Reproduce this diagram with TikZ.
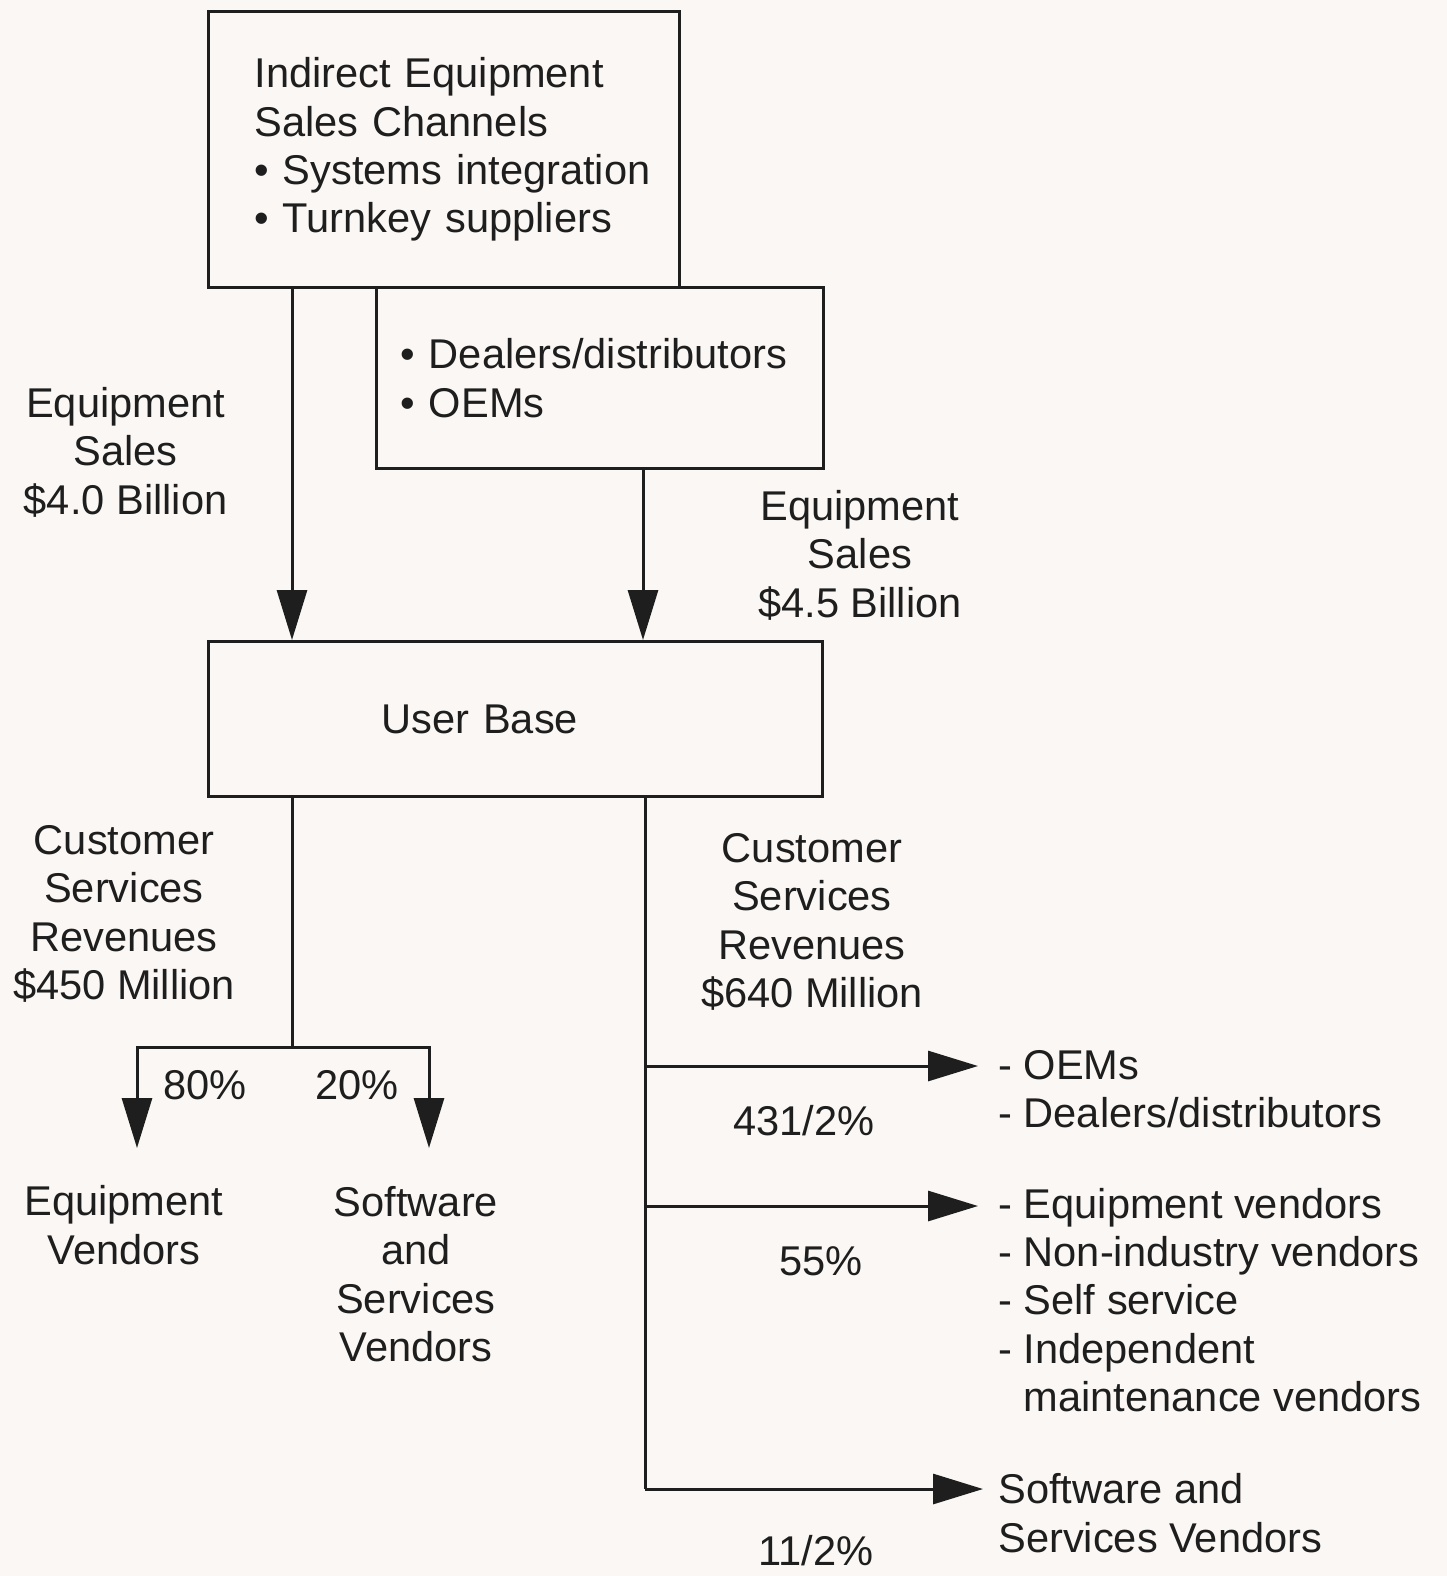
\documentclass[tikz,border=0pt]{standalone}
\usepackage{fontspec}
\setmainfont{Liberation Sans}
\usetikzlibrary{arrows.meta,calc}
\definecolor{bg}{RGB}{251,247,244}
\definecolor{ink}{RGB}{30,30,30}
\newcommand{\diagfont}{\fontsize{20.8}{24.2}\selectfont\hbadness=10000\relax\hfuzz=100pt\relax}
\begin{document}
\begin{tikzpicture}[x=0.5pt,y=-0.5pt,
  every node/.style={font=\diagfont, text=ink},
  box/.style={draw=ink, line width=1.5pt, anchor=north west, align=left, inner ysep=0pt},
  flow/.style={draw=ink, line width=1.5pt, -{Triangle[length=25pt,width=15pt]}},
  wire/.style={draw=ink, line width=1.5pt},
  lbl/.style={align=center, inner sep=0pt},
  lst/.style={align=left, inner sep=0pt, anchor=west}]
\fill[bg] (0,0) rectangle (1447,1576);
\useasboundingbox (0,0) rectangle (1447,1576);

\node[box, minimum width=235.5pt, minimum height=138pt, inner xsep=23pt, text width=189.5pt] (top) at (207,10)
  {\mbox{Indirect Equipment}\\\mbox{Sales Channels}\\\mbox{\textbullet{} Systems integration}\\\mbox{\textbullet{} Turnkey suppliers}};
\node[box, minimum width=223.5pt, minimum height=90.5pt, inner xsep=12pt, text width=199.5pt] (dl) at (375,286)
  {\mbox{\textbullet{} Dealers/distributors}\\\mbox{\textbullet{} OEMs}};
\node[box, minimum width=307pt, minimum height=77.5pt, inner xsep=86.5pt, text width=134pt] (ub) at (207,640)
  {User Base};

\coordinate (xa) at (292,0);
\coordinate (xb) at (643,0);
\coordinate (xc) at (645,0);
\coordinate (split) at (292,1047);
\coordinate (sl) at (137,1047);
\coordinate (sr) at (429,1047);
\coordinate (el) at (137,1148);
\coordinate (er) at (429,1148);
\coordinate (rb) at (645,1489);
\coordinate (t1) at (978,1066);
\coordinate (t2) at (978,1206);
\coordinate (t3) at (983,1489);

\draw[flow] (top.south -| xa) -- (ub.north -| xa);
\draw[flow] (dl.south -| xb) -- (ub.north -| xb);
\draw[wire] (ub.south -| xa) -- (split);
\draw[flow] (split) -- (sl) -- (el);
\draw[flow] (split) -- (sr) -- (er);
\draw[wire] (ub.south -| xc) -- (rb);
\draw[flow] (t1 -| xc) -- (t1);
\draw[flow] (t2 -| xc) -- (t2);
\draw[flow] (rb) -- (t3);

\node[lbl] (es1) at (125.6,452) {Equipment\\Sales\\\$4.0 Billion};
\node[lbl] (es2) at (860,555) {Equipment\\Sales\\\$4.5 Billion};
\node[lbl] (cs1) at (124,914) {Customer\\Services\\Revenues\\\$450 Million};
\node[lbl] (cs2) at (812,922) {Customer\\Services\\Revenues\\\$640 Million};
\node[lbl] (p80) at (205,1085) {80\%};
\node[lbl] (p20) at (357,1085) {20\%};
\node[lbl] (ev) at (124,1225) {Equipment\\Vendors};
\node[lbl] (ssv) at (416,1274) {Software\\and\\Services\\Vendors};
\node[lbl] (p43) at (804,1121) {431/2\%};
\node[lbl] (p55) at (821,1261) {55\%};
\node[lbl] (p1) at (816,1551) {11/2\%};
\node[lst] (r1) at (998,1089) {- OEMs\\- Dealers/distributors};
\node[lst] (r2) at (998,1300) {- Equipment vendors\\- Non-industry vendors\\- Self service\\- Independent\\\hphantom{- }maintenance vendors};
\node[lst] (r3) at (998,1513) {Software and\\Services Vendors};
\end{tikzpicture}
\end{document}
